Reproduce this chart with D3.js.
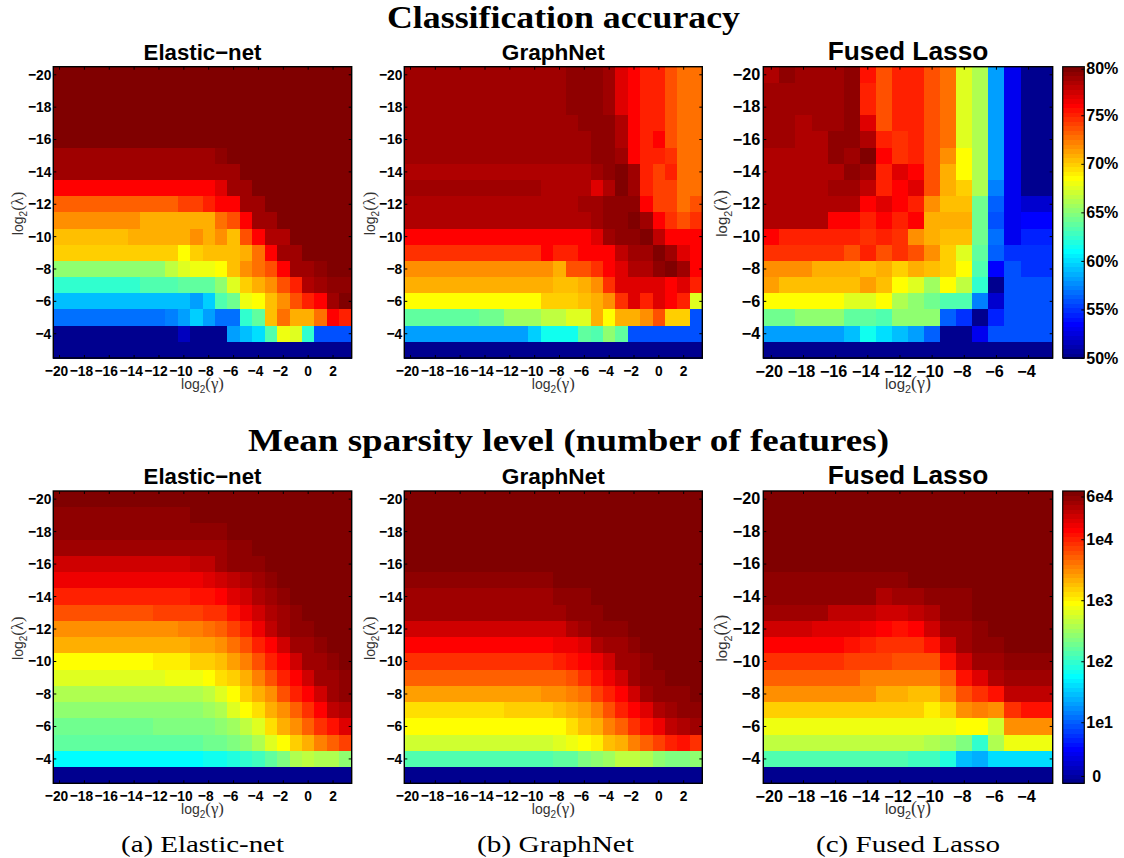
<!DOCTYPE html>
<html>
<head>
<meta charset="utf-8">
<script src="https://cdn.jsdelivr.net/npm/d3@7"></script>
<style>
  body { margin: 0; background: #fff; }
  svg { display: block; }
</style>
</head>
<body>
<svg id="fig" width="1124" height="858"></svg>
<script>
// rows run from log2(lambda) = -20 (top) to -3 (bottom)
var lambdaVals = [-20,-19,-18,-17,-16,-15,-14,-13,-12,-11,-10,-9,-8,-7,-6,-5,-4,-3];
var gammaWide = [-20,-19,-18,-17,-16,-15,-14,-13,-12,-11,-10,-9,-8,-7,-6,-5,-4,-3,-2,-1,0,1,2,3];
var gammaNarrow = [-20,-19,-18,-17,-16,-15,-14,-13,-12,-11,-10,-9,-8,-7,-6,-5,-4,-3];
var lambdaTicks = [-20,-18,-16,-14,-12,-10,-8,-6,-4];
var gammaTicksWide = [-20,-18,-16,-14,-12,-10,-8,-6,-4,-2,0,2];
var gammaTicksNarrow = [-20,-18,-16,-14,-12,-10,-8,-6,-4];

// classification accuracy, percent
var accElastic = [
[80,80,80,80,80,80,80,80,80,80,80,80,80,80,80,80,80,80,80,80,80,80,80,80],
[80,80,80,80,80,80,80,80,80,80,80,80,80,80,80,80,80,80,80,80,80,80,80,80],
[80,80,80,80,80,80,80,80,80,80,80,80,80,80,80,80,80,80,80,80,80,80,80,80],
[80,80,80,80,80,80,80,80,80,80,80,80,80,80,80,80,80,80,80,80,80,80,80,80],
[80,80,80,80,80,80,80,80,80,80,80,80,80,80,80,80,80,80,80,80,80,80,80,80],
[78.9,78.9,78.9,78.9,78.9,78.9,78.9,78.9,78.9,78.9,78.9,78.9,78.9,79.5,80,80,80,80,80,80,80,80,80,80],
[79,79,79,79,79,79,79,79,79,79,79,79,79,79,79,80,80,80,80,80,80,80,80,80],
[76.2,76.2,76.2,76.2,76.2,76.2,76.2,76.2,76.2,76.2,76.2,76.2,76.2,77.1,79,79,80,80,80,80,80,80,80,80],
[73.2,73.2,73.2,73.2,73.2,73.2,73.2,73.2,73.2,73.2,74.2,74.2,75.3,76.2,76.2,79.2,79.2,80,80,80,80,80,80,80],
[72.1,72.1,72.1,72.1,72.1,72.1,72.1,71,71,71,71,71,71,72.9,74,76.2,79.2,79.2,80,80,80,80,80,80],
[70.7,70.7,70.7,70.7,70.7,70.7,71,71,71,71,71,71.9,70.8,71.9,70.7,74,76.2,78.6,78.6,80,80,80,80,80],
[69.8,69.8,69.8,69.8,69.8,69.8,69.8,69.8,69.8,69.8,68.8,70,70.7,70.7,70.7,71,72.9,76.2,79,79,80,80,80,80],
[65.4,65.4,65.4,65.4,65.4,65.4,65.4,65.4,65.4,66.6,67.6,68,68,68.8,70.7,71.9,72.9,74,76.2,79,79,79.5,80,80],
[62.2,62.2,62.2,62.2,62.2,62.2,62.2,63.1,63.1,63.1,64,64,64,65.4,67.8,69.8,71,72,74,75.1,78.6,79.2,79.5,79.5],
[58.9,58.9,58.9,58.9,58.9,58.9,58.9,58.9,58.9,58.9,58.9,58,59.7,63.1,64.5,68,68.8,70.7,71.9,73.8,75.2,76.2,79.2,80],
[56.6,56.6,56.6,56.6,56.6,56.6,56.6,56.6,56.6,57,58,59.7,58,56.6,56.6,62.2,64,70.7,72.9,70.8,71,72.9,76.2,75.1],
[50,50,50,50,50,50,50,50,50,50,51.3,50,50,50,58,58.9,59.9,63.1,68,67.4,62.2,55.6,55.6,55.6],
[50,50,50,50,50,50,50,50,50,50,50,50,50,50,50,50,50,50,50,50,50,50,50,50]
];
var accGraph = [
[78.9,78.9,78.9,78.9,78.9,78.9,78.9,78.9,78.9,78.9,78.9,78.9,78.9,79.6,79.6,79.6,79,77.3,76.2,75.1,75.1,73.8,72.9,72.9],
[78.9,78.9,78.9,78.9,78.9,78.9,78.9,78.9,78.9,78.9,78.9,78.9,78.9,79.6,79.6,79.6,79,77.3,76.2,75.1,75.1,73.8,72.9,72.9],
[78.9,78.9,78.9,78.9,78.9,78.9,78.9,78.9,78.9,78.9,78.9,78.9,78.9,79.6,79.6,79.6,79,77.3,76.2,75.1,75.1,73.8,72.9,72.9],
[78.9,78.9,78.9,78.9,78.9,78.9,78.9,78.9,78.9,78.9,78.9,78.9,78.9,78.9,79.6,79.6,79.6,78.4,76.2,75.1,75.1,73.8,72.9,72.9],
[78.9,78.9,78.9,78.9,78.9,78.9,78.9,78.9,78.9,78.9,78.9,78.9,78.9,78.9,78.9,79.6,79.6,78.4,76.2,75.1,76.2,73.8,72.9,72.9],
[78.9,78.9,78.9,78.9,78.9,78.9,78.9,78.9,78.9,78.9,78.9,78.9,78.9,78.9,78.9,79.6,79.6,78.9,76.2,75.1,75.1,74.6,72.9,72.9],
[78.4,78.4,78.4,78.4,78.4,78.4,78.4,78.4,78.4,78.4,78.4,78.4,78.4,78.4,78.4,78.9,79.6,80,79,75.3,74.4,75.1,72.9,72.9],
[78.9,78.9,78.9,78.9,78.9,78.9,78.9,78.9,78.9,78.9,78.9,78.4,78.4,78.4,78.4,77,78.6,80,79.2,75.3,74.4,74.4,72.9,72.9],
[78.4,78.4,78.4,78.4,78.4,78.4,78.4,78.4,78.4,78.4,78.4,78.4,78.4,78.4,78.9,78.9,79.6,79.6,79.6,76.2,74.4,74.4,72.9,74],
[78.4,78.4,78.4,78.4,78.4,78.4,78.4,78.4,78.4,78.4,78.4,78.4,78.4,78.4,78.4,79.2,79.6,79.6,80,79.2,76.2,74.6,73.8,74.9],
[76.2,76.2,76.2,76.2,76.2,76.2,76.2,76.2,76.2,76.2,76.2,76.2,76.2,76.2,76.2,77,78.9,79.6,79.6,80,78.1,76.2,76.2,76.2],
[74.9,74.9,74.9,74.9,74.9,74.9,74.9,74.9,74.9,74.9,74.9,76.2,75.1,75.1,76.2,76.2,76.2,78.1,78.9,78.9,80,79.2,77.3,76.2],
[72.1,72.1,72.1,72.1,72.1,72.1,72.1,72.1,72.1,72.1,72.1,72.1,71,74,74,74.9,76.2,77.3,78.6,78.6,79.6,80,79.2,76.2],
[71,71,71,71,71,71,71,71,71,71,71,71,70.6,70.6,70.8,72,74.9,77.1,77.1,77.1,77.1,76.2,77.1,75.1],
[68.8,68.8,68.8,68.8,68.8,68.8,68.8,68.8,68.8,68.8,68.8,69.8,69.8,69.8,70.7,71,72,74.9,77.3,75.1,77.1,76.2,75.3,67.6],
[64,64,64,64,64,64,64.5,64.5,65.6,65.6,65.6,66.6,66.6,67.8,67.8,71,68.8,70.8,70.8,72.1,74,69.8,69.8,55.6],
[58,58,58,58,58,58,58,58,58,58,59.4,61.3,61.3,61.3,64,63.1,65.4,64,55.6,55.6,55.6,55.6,55.6,55.6],
[50,50,50,50,50,50,50,50,50,50,50,50,50,50,50,50,50,50,50,50,50,50,50,50]
];
var accFused = [
[78.6,79.6,78.9,78.9,78.9,79.6,75.8,73.8,75.1,75.1,74,73,67.8,66.2,58,52.7,50,50],
[78.9,78.9,78.9,78.9,78.9,79.6,75.1,73.8,75.1,75.1,74,73,67.6,66.2,58,52.7,50,50],
[78.9,78.9,78.9,78.9,78.9,79.6,75.1,73.8,75.1,75.1,74,73,67.8,66.2,58,52.7,50,50],
[78.9,78.9,78.4,78.9,78.9,79.6,77.1,73.8,75.1,75.1,74,73,67.8,66.2,58,52.7,50,50],
[78.9,78.9,78.4,78.4,79.6,79.6,78.6,75.1,74.6,75.1,74,73,67.8,66.2,58,52.7,50,50],
[78.4,78.4,78.4,78.4,79.6,78.9,80,76.2,74.6,75.1,74,72.1,68.8,66.2,58,52.7,50,50],
[78.4,78.4,78.4,78.4,78.4,79.6,79.2,75.1,77.1,76.2,74,71,68.8,66.2,58,52.7,50,50],
[78.4,78.4,78.4,78.4,78.9,78.9,78,75.1,76.2,77.3,74,71,70,66.2,57,53,50,50],
[78.4,78.4,78.4,78.4,78.4,78.4,76.2,77.3,76.2,75.1,72.1,70.6,70.6,64.5,56.1,53,51.9,51.9],
[78.4,78.4,78.4,78.4,76.2,76.2,75.1,76.2,75.1,76.2,71,71,71,64.5,55.6,53,53.5,53.3],
[76.2,75.3,75.3,75.3,75.3,75.3,74.6,75.1,74.6,72.1,70.8,70.6,70.6,64.5,56.6,53,54.2,54.2],
[74.9,74.9,74.9,74.9,74.9,74,75.1,74,74.6,74,72.1,70,67.6,64,56.1,54.7,54.7,54.7],
[72.1,72.1,72.1,71,71,71,70.6,71,70,71,70.6,70,68.8,63.1,53.5,55.6,54.7,54.7],
[71.5,70.6,70.6,70.6,70.6,70.6,71.2,70.6,68.8,67.6,65.9,68.8,66.6,62.2,50,55.6,55.6,55.6],
[68.8,68.8,68.8,68.8,68.8,67.8,67.8,68.8,66.4,65.4,64.5,63.1,63.1,57,51.9,55.6,55.6,55.6],
[64.5,64.5,65.4,65.4,65.4,64,64,63.1,65.4,65.4,65.4,56.1,54.7,50,54.2,55.6,55.6,55.6],
[58,58,58,58,58,58.9,61.3,59.9,58.9,58,56.1,50,50,53,55.6,55.6,55.6,55.6],
[50,50,50,50,50,50,50,50,50,50,50,50,50,50,50,50,50,50]
];

// mean sparsity level, log10 of the number of features
var sparElastic = [
[4.79,4.79,4.79,4.79,4.79,4.79,4.79,4.79,4.79,4.79,4.79,4.79,4.79,4.79,4.79,4.79,4.79,4.79,4.79,4.79,4.79,4.79,4.79,4.79],
[4.73,4.73,4.73,4.73,4.73,4.73,4.73,4.73,4.73,4.73,4.73,4.79,4.79,4.79,4.79,4.79,4.79,4.79,4.79,4.79,4.79,4.79,4.79,4.79],
[4.73,4.73,4.73,4.73,4.73,4.73,4.73,4.73,4.73,4.73,4.73,4.73,4.73,4.73,4.79,4.79,4.79,4.79,4.79,4.79,4.79,4.79,4.79,4.79],
[4.6,4.6,4.6,4.6,4.6,4.6,4.6,4.6,4.6,4.6,4.6,4.6,4.64,4.64,4.73,4.73,4.79,4.79,4.79,4.79,4.79,4.79,4.79,4.79],
[4.43,4.43,4.43,4.43,4.43,4.43,4.43,4.43,4.43,4.43,4.43,4.49,4.49,4.6,4.68,4.73,4.73,4.79,4.79,4.79,4.79,4.79,4.79,4.79],
[4.28,4.28,4.28,4.28,4.28,4.28,4.28,4.28,4.28,4.28,4.28,4.28,4.36,4.41,4.49,4.56,4.6,4.68,4.79,4.79,4.79,4.79,4.79,4.79],
[4.04,4.04,4.04,4.04,4.04,4.04,4.04,4.04,4.04,4.04,4.04,4.12,4.12,4.19,4.36,4.41,4.58,4.66,4.71,4.79,4.79,4.79,4.79,4.79],
[3.82,3.82,3.82,3.82,3.82,3.82,3.82,3.82,3.85,3.85,3.85,3.85,3.93,3.97,4.12,4.29,4.43,4.58,4.64,4.73,4.79,4.79,4.79,4.79],
[3.53,3.53,3.53,3.53,3.53,3.53,3.53,3.53,3.53,3.53,3.59,3.59,3.67,3.74,3.89,4.04,4.29,4.45,4.6,4.68,4.73,4.79,4.79,4.79],
[3.33,3.33,3.33,3.33,3.33,3.33,3.33,3.33,3.33,3.33,3.33,3.41,3.44,3.52,3.67,3.82,4.04,4.19,4.43,4.6,4.66,4.71,4.79,4.79],
[2.99,2.99,2.99,2.99,2.99,2.99,2.99,2.99,3.07,3.07,3.07,3.16,3.16,3.29,3.44,3.59,3.82,4.04,4.19,4.43,4.6,4.66,4.73,4.79],
[2.78,2.78,2.78,2.78,2.78,2.78,2.78,2.78,2.78,2.9,2.9,2.9,2.93,3.1,3.22,3.37,3.59,3.82,4.04,4.19,4.43,4.6,4.64,4.71],
[2.62,2.62,2.62,2.62,2.62,2.62,2.62,2.62,2.62,2.62,2.62,2.62,2.69,2.78,2.93,3.22,3.33,3.53,3.82,4.04,4.19,4.43,4.6,4.71],
[2.4,2.4,2.4,2.4,2.4,2.4,2.4,2.4,2.4,2.4,2.47,2.47,2.54,2.62,2.78,2.93,3.14,3.33,3.53,3.74,3.97,4.19,4.45,4.58],
[2.25,2.25,2.25,2.25,2.25,2.25,2.25,2.25,2.32,2.32,2.32,2.32,2.32,2.4,2.54,2.69,2.84,3.14,3.37,3.52,3.74,3.97,4.12,4.36],
[2.17,2.17,2.17,2.17,2.17,2.17,2.17,2.17,2.17,2.17,2.17,2.17,2.25,2.25,2.32,2.47,2.62,2.78,2.99,3.22,3.37,3.59,3.74,3.89],
[1.72,1.72,1.72,1.72,1.72,1.72,1.72,1.72,1.72,1.72,1.72,1.72,1.8,1.8,1.87,1.94,2.02,2.17,2.32,2.62,2.69,2.58,2.58,2.47],
[0,0,0,0,0,0,0,0,0,0,0,0,0,0,0,0,0,0,0,0,0,0,0,0]
];
var sparGraph = [
[4.79,4.79,4.79,4.79,4.79,4.79,4.79,4.79,4.79,4.79,4.79,4.79,4.79,4.79,4.79,4.79,4.79,4.79,4.79,4.79,4.79,4.79,4.79,4.79],
[4.79,4.79,4.79,4.79,4.79,4.79,4.79,4.79,4.79,4.79,4.79,4.79,4.79,4.79,4.79,4.79,4.79,4.79,4.79,4.79,4.79,4.79,4.79,4.79],
[4.79,4.79,4.79,4.79,4.79,4.79,4.79,4.79,4.79,4.79,4.79,4.79,4.79,4.79,4.79,4.79,4.79,4.79,4.79,4.79,4.79,4.79,4.79,4.79],
[4.79,4.79,4.79,4.79,4.79,4.79,4.79,4.79,4.79,4.79,4.79,4.79,4.79,4.79,4.79,4.79,4.79,4.79,4.79,4.79,4.79,4.79,4.79,4.79],
[4.79,4.79,4.79,4.79,4.79,4.79,4.79,4.79,4.79,4.79,4.79,4.79,4.79,4.79,4.79,4.79,4.79,4.79,4.79,4.79,4.79,4.79,4.79,4.79],
[4.73,4.73,4.73,4.73,4.73,4.73,4.73,4.73,4.73,4.73,4.73,4.73,4.79,4.79,4.79,4.79,4.79,4.79,4.79,4.79,4.79,4.79,4.79,4.79],
[4.66,4.66,4.66,4.66,4.66,4.66,4.66,4.66,4.66,4.66,4.66,4.66,4.73,4.73,4.73,4.79,4.79,4.79,4.79,4.79,4.79,4.79,4.79,4.79],
[4.6,4.6,4.6,4.6,4.6,4.6,4.6,4.6,4.6,4.6,4.6,4.6,4.6,4.68,4.68,4.73,4.79,4.79,4.79,4.79,4.79,4.79,4.79,4.79],
[4.43,4.43,4.43,4.43,4.43,4.43,4.43,4.43,4.43,4.43,4.43,4.43,4.43,4.53,4.6,4.68,4.73,4.73,4.79,4.79,4.79,4.79,4.79,4.79],
[4.19,4.19,4.19,4.19,4.19,4.19,4.19,4.19,4.19,4.19,4.19,4.19,4.29,4.29,4.36,4.53,4.6,4.66,4.73,4.79,4.79,4.79,4.79,4.79],
[3.97,3.97,3.97,3.97,3.97,3.97,3.97,3.97,3.97,3.97,3.97,3.97,4.04,4.12,4.19,4.27,4.43,4.6,4.66,4.73,4.79,4.79,4.79,4.79],
[3.69,3.69,3.69,3.69,3.69,3.69,3.69,3.69,3.69,3.69,3.74,3.74,3.74,3.82,3.97,4.12,4.29,4.43,4.6,4.68,4.73,4.79,4.79,4.79],
[3.44,3.44,3.44,3.44,3.44,3.44,3.44,3.44,3.44,3.44,3.44,3.52,3.52,3.59,3.67,3.89,4.04,4.19,4.43,4.6,4.68,4.73,4.73,4.79],
[3.14,3.14,3.14,3.14,3.14,3.14,3.14,3.14,3.22,3.22,3.22,3.22,3.29,3.37,3.44,3.59,3.82,4.04,4.19,4.36,4.53,4.64,4.68,4.73],
[2.93,2.93,2.93,2.93,2.93,2.93,2.93,2.93,2.93,2.93,2.93,2.99,2.99,3.1,3.26,3.37,3.59,3.74,3.97,4.12,4.29,4.45,4.53,4.64],
[2.72,2.72,2.72,2.72,2.72,2.72,2.72,2.72,2.72,2.72,2.72,2.72,2.8,2.9,2.95,3.07,3.24,3.37,3.59,3.69,3.85,4.02,4.12,3.97],
[2.1,2.1,2.1,2.1,2.1,2.1,2.1,2.1,2.1,2.1,2.1,2.1,2.17,2.17,2.32,2.4,2.54,2.69,2.69,2.62,2.47,2.32,2.32,2.4],
[0,0,0,0,0,0,0,0,0,0,0,0,0,0,0,0,0,0,0,0,0,0,0,0]
];
var sparFused = [
[4.79,4.79,4.79,4.79,4.79,4.79,4.79,4.79,4.79,4.79,4.79,4.79,4.79,4.79,4.79,4.79,4.79,4.79],
[4.79,4.79,4.79,4.79,4.79,4.79,4.79,4.79,4.79,4.79,4.79,4.79,4.79,4.79,4.79,4.79,4.79,4.79],
[4.79,4.79,4.79,4.79,4.79,4.79,4.79,4.79,4.79,4.79,4.79,4.79,4.79,4.79,4.79,4.79,4.79,4.79],
[4.79,4.79,4.79,4.79,4.79,4.79,4.79,4.79,4.79,4.79,4.79,4.79,4.79,4.79,4.79,4.79,4.79,4.79],
[4.79,4.79,4.79,4.79,4.79,4.79,4.79,4.79,4.79,4.79,4.79,4.79,4.79,4.79,4.79,4.79,4.79,4.79],
[4.73,4.73,4.73,4.73,4.73,4.73,4.73,4.73,4.73,4.79,4.79,4.79,4.79,4.79,4.79,4.79,4.79,4.79],
[4.68,4.68,4.68,4.68,4.68,4.68,4.68,4.56,4.6,4.66,4.73,4.73,4.73,4.79,4.79,4.79,4.79,4.79],
[4.6,4.6,4.6,4.6,4.51,4.51,4.51,4.38,4.38,4.49,4.58,4.73,4.73,4.79,4.79,4.79,4.79,4.79],
[4.43,4.43,4.43,4.36,4.36,4.36,4.29,4.19,4.12,4.19,4.43,4.6,4.66,4.73,4.79,4.79,4.79,4.79],
[4.19,4.19,4.19,4.19,4.19,4.12,4.04,3.97,3.97,3.97,4.08,4.43,4.64,4.68,4.73,4.79,4.79,4.79],
[3.97,3.97,3.97,3.97,3.97,3.89,3.85,3.85,3.82,3.82,3.82,4.12,4.43,4.6,4.66,4.73,4.73,4.73],
[3.69,3.69,3.69,3.69,3.69,3.69,3.61,3.61,3.56,3.56,3.56,3.74,4.12,4.36,4.53,4.66,4.66,4.66],
[3.48,3.48,3.48,3.48,3.48,3.48,3.48,3.37,3.37,3.29,3.29,3.52,3.82,3.97,4.12,4.49,4.49,4.49],
[3.18,3.18,3.18,3.22,3.22,3.22,3.22,3.16,3.16,3.16,3.07,3.18,3.53,3.61,3.48,3.98,4.08,4.08],
[2.91,2.91,2.91,2.91,2.91,2.91,2.91,2.91,2.91,2.91,2.91,2.91,2.99,2.93,2.74,3.46,3.46,3.46],
[2.69,2.69,2.69,2.69,2.69,2.69,2.69,2.69,2.69,2.69,2.62,2.54,2.32,1.94,2.58,2.87,2.87,2.87],
[2.1,2.1,2.1,2.1,2.1,2.1,2.1,2.1,2.1,2.02,2.02,1.87,1.42,1.38,1.57,1.57,1.57,1.57],
[0,0,0,0,0,0,0,0,0,0,0,0,0,0,0,0,0,0]
];

var accTicks = [50,55,60,65,70,75,79.8];
var accTickLabels = ["50%","55%","60%","65%","70%","75%","80%"];
var sparTicks = [0.12,1,2,3,4,4.7];
var sparTickLabels = ["0","1e1","1e2","1e3","1e4","6e4"];

var accDomain = [50,80];
var sparDomain = [0,4.79];

// matlab jet(64)
function jetColors(){
    var u=[],i,out=[];
    for(i=1;i<=16;i++) u.push(i/16);
    for(i=0;i<15;i++) u.push(1);
    for(i=16;i>=1;i--) u.push(i/16);
    var pick=function(q){ return (q>=1 && q<=47) ? u[q-1] : 0; };
    for(var k=1;k<=64;k++){
        out.push(d3.rgb(pick(k-24)*255,pick(k-8)*255,pick(k+8)*255).formatHex());
    }
    return out;
}
var jet = jetColors();

var svg = d3.select("#fig");
var sansFont = "'Liberation Sans', Arial, sans-serif";
var serifFont = "'Liberation Serif', 'Times New Roman', serif";

function colorFor(domain){
    var t = d3.scaleLinear().domain(domain).range([0,63]).clamp(true);
    return function(v){ return jet[Math.round(t(v))]; };
}

function logLabel(g,sym,size){
    g.append("tspan").text("log");
    g.append("tspan").attr("font-size",size*0.72).attr("dy",size*0.28).text("2");
    g.append("tspan").attr("font-size",size*1.2).attr("dy",-size*0.28).attr("font-family",serifFont)
        .text("("+sym+")");
}

// squeeze a text sideways, the axis labels in the small panels are narrow
function squeeze(sel,k){
    sel.attr("textLength",function(){ return this.getComputedTextLength()*k; })
        .attr("lengthAdjust","spacingAndGlyphs");
}

function drawPanel(p){
    var x = d3.scaleBand().domain(p.cols).range([p.x0,p.x1]);
    var y = d3.scaleBand().domain(lambdaVals).range([p.y0,p.y1]);
    var color = colorFor(p.domain);
    var g = svg.append("g");

    var rows = g.selectAll("g.row").data(p.values).enter().append("g").attr("class","row")
        .attr("shape-rendering","crispEdges");
    rows.each(function(row,ri){
        d3.select(this).selectAll("rect").data(row).enter().append("rect")
            .attr("x",function(d,i){ return x(p.cols[i]); })
            .attr("y",y(lambdaVals[ri]))
            .attr("width",x.bandwidth()+0.5)
            .attr("height",y.bandwidth()+0.5)
            .attr("fill",function(d){ return color(d); });
    });

    var fmt = d3.format("d");
    var xAxis = d3.axisBottom(x).tickValues(p.xTicks).tickFormat(fmt).tickSizeInner(-3).tickSizeOuter(0).tickPadding(p.xPad);
    var yAxis = d3.axisLeft(y).tickValues(lambdaTicks).tickFormat(fmt).tickSizeInner(-3).tickSizeOuter(0).tickPadding(p.yPad);

    var gx = g.append("g").attr("transform","translate(0,"+p.y1+")").call(xAxis);
    var gy = g.append("g").attr("transform","translate("+p.x0+",0)").call(yAxis);
    [gx,gy].forEach(function(a){
        a.select(".domain").remove();
        a.selectAll("text").attr("font-family",sansFont).attr("font-weight","bold")
            .attr("font-size",p.tickSize).attr("fill","#000");
        squeeze(a.selectAll("text"),p.squeeze);
    });
    // negative labels sit a bit left of their tick
    gx.selectAll("text").filter(function(d){ return d<0; }).attr("dx",p.minusShift);

    // mirrored ticks on the far sides
    var gt = g.append("g").attr("transform","translate(0,"+p.y0+")")
        .call(d3.axisTop(x).tickValues(p.xTicks).tickFormat("").tickSizeInner(-3).tickSizeOuter(0));
    var gr = g.append("g").attr("transform","translate("+p.x1+",0)")
        .call(d3.axisRight(y).tickValues(lambdaTicks).tickFormat("").tickSizeInner(-3).tickSizeOuter(0));
    gt.select(".domain").remove();
    gr.select(".domain").remove();

    g.append("rect").attr("x",p.x0).attr("y",p.y0).attr("width",p.x1-p.x0).attr("height",p.y1-p.y0)
        .attr("fill","none").attr("stroke","#000").attr("stroke-width",1.4);

    g.append("text").attr("x",(p.x0+p.x1)/2).attr("y",p.y0-7)
        .attr("text-anchor","middle").attr("font-family",sansFont).attr("font-weight","bold")
        .attr("font-size",p.titleSize).attr("fill","#000").text(p.title);

    var xl = g.append("text").attr("x",(p.x0+p.x1)/2).attr("y",p.y1+31)
        .attr("text-anchor","middle").attr("font-family",sansFont).attr("font-size",p.labelSize).attr("fill","#333");
    logLabel(xl,"\u03B3",p.labelSize);

    var yl = g.append("text").attr("transform","translate("+(p.x0-p.labelGap)+","+((p.y0+p.y1)/2+1)+") rotate(-90)")
        .attr("text-anchor","middle").attr("font-family",sansFont).attr("font-size",p.labelSize).attr("fill","#333");
    logLabel(yl,"\u03BB",p.labelSize);
}

function drawColorbar(c){
    var levels = d3.range(64);
    var band = d3.scaleBand().domain(levels).range([c.y1,c.y0]);
    var g = svg.append("g");
    g.selectAll("rect").data(levels).enter().append("rect")
        .attr("shape-rendering","crispEdges")
        .attr("x",c.x0).attr("y",function(d){ return band(d); })
        .attr("width",c.x1-c.x0).attr("height",band.bandwidth()+0.5)
        .attr("fill",function(d){ return jet[d]; });

    var scale = d3.scaleLinear().domain(c.domain).range([c.y1,c.y0]);
    var ax = d3.axisRight(scale).tickValues(c.ticks)
        .tickFormat(function(d,i){ return c.labels[i]; })
        .tickSizeInner(-3).tickSizeOuter(0).tickPadding(2);
    var ga = g.append("g").attr("transform","translate("+c.x1+",0)").call(ax);
    ga.select(".domain").remove();
    ga.selectAll("text").attr("font-family",sansFont).attr("font-weight","bold")
        .attr("font-size",16).attr("fill","#000");
    ga.selectAll("text").filter(function(d,i){ return c.labels[i]==="0"; }).attr("dx",6);

    g.append("rect").attr("x",c.x0).attr("y",c.y0).attr("width",c.x1-c.x0).attr("height",c.y1-c.y0)
        .attr("fill","none").attr("stroke","#000").attr("stroke-width",1.2);
}

var rowsY = [[66.7,358],[491,783.3]];
var panels = [
  {title:"Elastic\u2212net",x0:53.3,x1:351.7,cols:gammaWide,xTicks:gammaTicksWide,titleSize:22.2,tickSize:15.5,squeeze:0.89,minusShift:-3,labelSize:14,labelGap:30,xPad:7,yPad:2},
  {title:"GraphNet",x0:404.3,x1:702.3,cols:gammaWide,xTicks:gammaTicksWide,titleSize:22.6,tickSize:15.5,squeeze:0.89,minusShift:-3,labelSize:14,labelGap:29,xPad:7,yPad:2},
  {title:"Fused Lasso",x0:763.3,x1:1052.7,cols:gammaNarrow,xTicks:gammaTicksNarrow,titleSize:26.3,tickSize:16.2,squeeze:1,minusShift:-2,labelSize:15,labelGap:36,xPad:7,yPad:3}
];
var accSets = [accElastic,accGraph,accFused];
var sparSets = [sparElastic,sparGraph,sparFused];

panels.forEach(function(p,i){
    drawPanel(Object.assign({},p,{y0:rowsY[0][0],y1:rowsY[0][1],values:accSets[i],domain:accDomain}));
    drawPanel(Object.assign({},p,{y0:rowsY[1][0],y1:rowsY[1][1],values:sparSets[i],domain:sparDomain}));
});

drawColorbar({x0:1062.7,x1:1084.3,y0:rowsY[0][0],y1:rowsY[0][1],domain:accDomain,ticks:accTicks,labels:accTickLabels});
drawColorbar({x0:1062.7,x1:1084.3,y0:rowsY[1][0],y1:rowsY[1][1],domain:sparDomain,ticks:sparTicks,labels:sparTickLabels});

function heading(txt,x,y,len,size,bold){
    svg.append("text").attr("x",x).attr("y",y).attr("font-family",serifFont)
        .attr("font-weight",bold?"bold":"normal").attr("font-size",size).attr("fill","#000")
        .attr("textLength",len).attr("lengthAdjust","spacingAndGlyphs").text(txt);
}
heading("Classification accuracy",387,28,353,31,true);
heading("Mean sparsity level (number of features)",248,451,641,31,true);
heading("(a) Elastic-net",121,852,163,24,false);
heading("(b) GraphNet",477,852,157,24,false);
heading("(c) Fused Lasso",816,852,184,24,false);
</script>
</body>
</html>
